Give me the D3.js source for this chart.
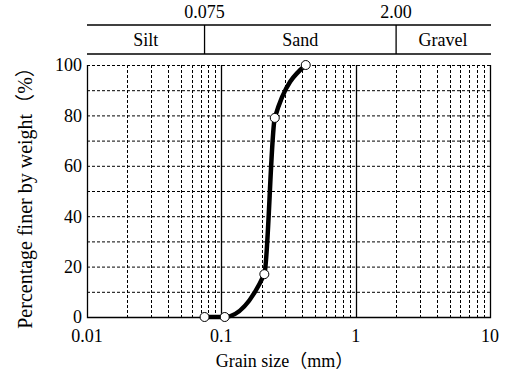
<!DOCTYPE html>
<html lang="en">

<head>
    <meta charset="UTF-8">
    <title>Grain size distribution</title>
    <script src="https://cdn.jsdelivr.net/npm/d3@7"></script>
    <style>
        body { margin: 0; background: #fff; }
        text { font-family: "Liberation Serif", "Times New Roman", "Noto Sans CJK JP", serif; font-size: 18px; fill: #000; }
    </style>
</head>

<body>
    <svg></svg>
</body>
<script>
    // data
    const grainSize = [0.075, 0.106, 0.209, 0.25, 0.425];   // mm
    const percentFiner = [0, 0, 17, 79, 100];              // %
    const xTicks = [0.01, 0.1, 1, 10];
    const xTickLabels = ['0.01', '0.1', '1', '10'];
    const yTicks = [0, 20, 40, 60, 80, 100];
    const bounds = [0.075, 2.00];
    const boundLabels = ['0.075', '2.00'];
    const soilNames = ['Silt', 'Sand', 'Gravel'];

    const width = 505, height = 382;
    const pL = 87, pR = 490, pT = 65, pB = 317;  // plot area edges

    const svg = d3.select('svg')
        .attr('width', width)
        .attr('height', height);

    const x = d3.scaleLog().domain([0.01, 10]).range([pL, pR]);
    const y = d3.scaleLinear().domain([0, 100]).range([pB, pT]);

    // dashed grid: every 10 % and 2..9 in each decade
    const grid = svg.append('g')
        .attr('stroke', '#000')
        .attr('stroke-width', 1)
        .attr('stroke-dasharray', '3,2');
    grid.selectAll('.h')
        .data(d3.range(10, 101, 10))
        .join('line')
        .attr('x1', pL).attr('x2', pR)
        .attr('y1', d => y(d) + 0.5).attr('y2', d => y(d) + 0.5);
    const minor = [];
    [0.01, 0.1, 1].forEach(dec => d3.range(2, 10).forEach(k => minor.push(dec * k)));
    grid.selectAll('.v')
        .data(minor)
        .join('line')
        .attr('x1', d => Math.round(x(d)) + 0.5).attr('x2', d => Math.round(x(d)) + 0.5)
        .attr('y1', pT).attr('y2', pB);

    // solid decade lines and frame
    svg.append('g')
        .selectAll('line')
        .data([0.1, 1])
        .join('line')
        .attr('x1', d => Math.round(x(d)) + 0.5).attr('x2', d => Math.round(x(d)) + 0.5)
        .attr('y1', pT).attr('y2', pB)
        .attr('stroke', '#000')
        .attr('stroke-width', 1.3);
    svg.append('path')
        .attr('d', `M${pL + 0.5},${pT}V${pB + 0.5}H${pR + 0.5}V${pT}`)
        .attr('fill', 'none')
        .attr('stroke', '#000')
        .attr('stroke-width', 1.3);

    // axis labels
    svg.append('g')
        .selectAll('text')
        .data(xTicks)
        .join('text')
        .attr('x', d => x(d))
        .attr('y', 342)
        .attr('text-anchor', 'middle')
        .text((d, i) => xTickLabels[i]);
    svg.append('g')
        .selectAll('text')
        .data(yTicks)
        .join('text')
        .attr('x', pL - 5)
        .attr('y', d => y(d))
        .attr('dy', '0.35em')
        .attr('text-anchor', 'end')
        .text(d => d);

    svg.append('text')
        .attr('x', (pL + pR) / 2 - 4)
        .attr('y', 367)
        .attr('text-anchor', 'middle')
        .text('Grain size（mm）');
    svg.append('text')
        .attr('transform', `translate(32, ${(pT + pB) / 2 + 2}) rotate(-90)`)
        .attr('text-anchor', 'middle')
        .style('font-size', '20px')
        .text('Percentage finer by weight（%）');

    // soil classification band on top
    const band = svg.append('g').attr('stroke', '#000').attr('stroke-width', 1.3);
    band.selectAll('.hl')
        .data([25, 54])
        .join('line')
        .attr('x1', pL).attr('x2', pR + 1)
        .attr('y1', d => d).attr('y2', d => d);
    band.selectAll('.vl')
        .data(bounds)
        .join('line')
        .attr('x1', d => x(d)).attr('x2', d => x(d))
        .attr('y1', 25).attr('y2', 54);
    svg.append('g')
        .selectAll('text')
        .data(bounds)
        .join('text')
        .attr('x', d => x(d))
        .attr('y', 18)
        .attr('text-anchor', 'middle')
        .text((d, i) => boundLabels[i]);
    const edges = [0.01, ...bounds, 10];
    svg.append('g')
        .selectAll('text')
        .data(soilNames)
        .join('text')
        .attr('x', (d, i) => (x(edges[i]) + x(edges[i + 1])) / 2)
        .attr('y', 46)
        .attr('text-anchor', 'middle')
        .text(d => d);

    // grading curve
    const pts = grainSize.map((g, i) => [g, percentFiner[i]]);
    svg.append('path')
        .datum(pts)
        .attr('fill', 'none')
        .attr('stroke', '#000')
        .attr('stroke-width', 4.5)
        .attr('d', d3.line().x(d => x(d[0])).y(d => y(d[1])).curve(d3.curveMonotoneX));
    svg.append('g')
        .selectAll('circle')
        .data(pts)
        .join('circle')
        .attr('cx', d => x(d[0]))
        .attr('cy', d => y(d[1]))
        .attr('r', 4.5)
        .attr('fill', '#fff')
        .attr('stroke', '#000')
        .attr('stroke-width', 1);
</script>

</html>
